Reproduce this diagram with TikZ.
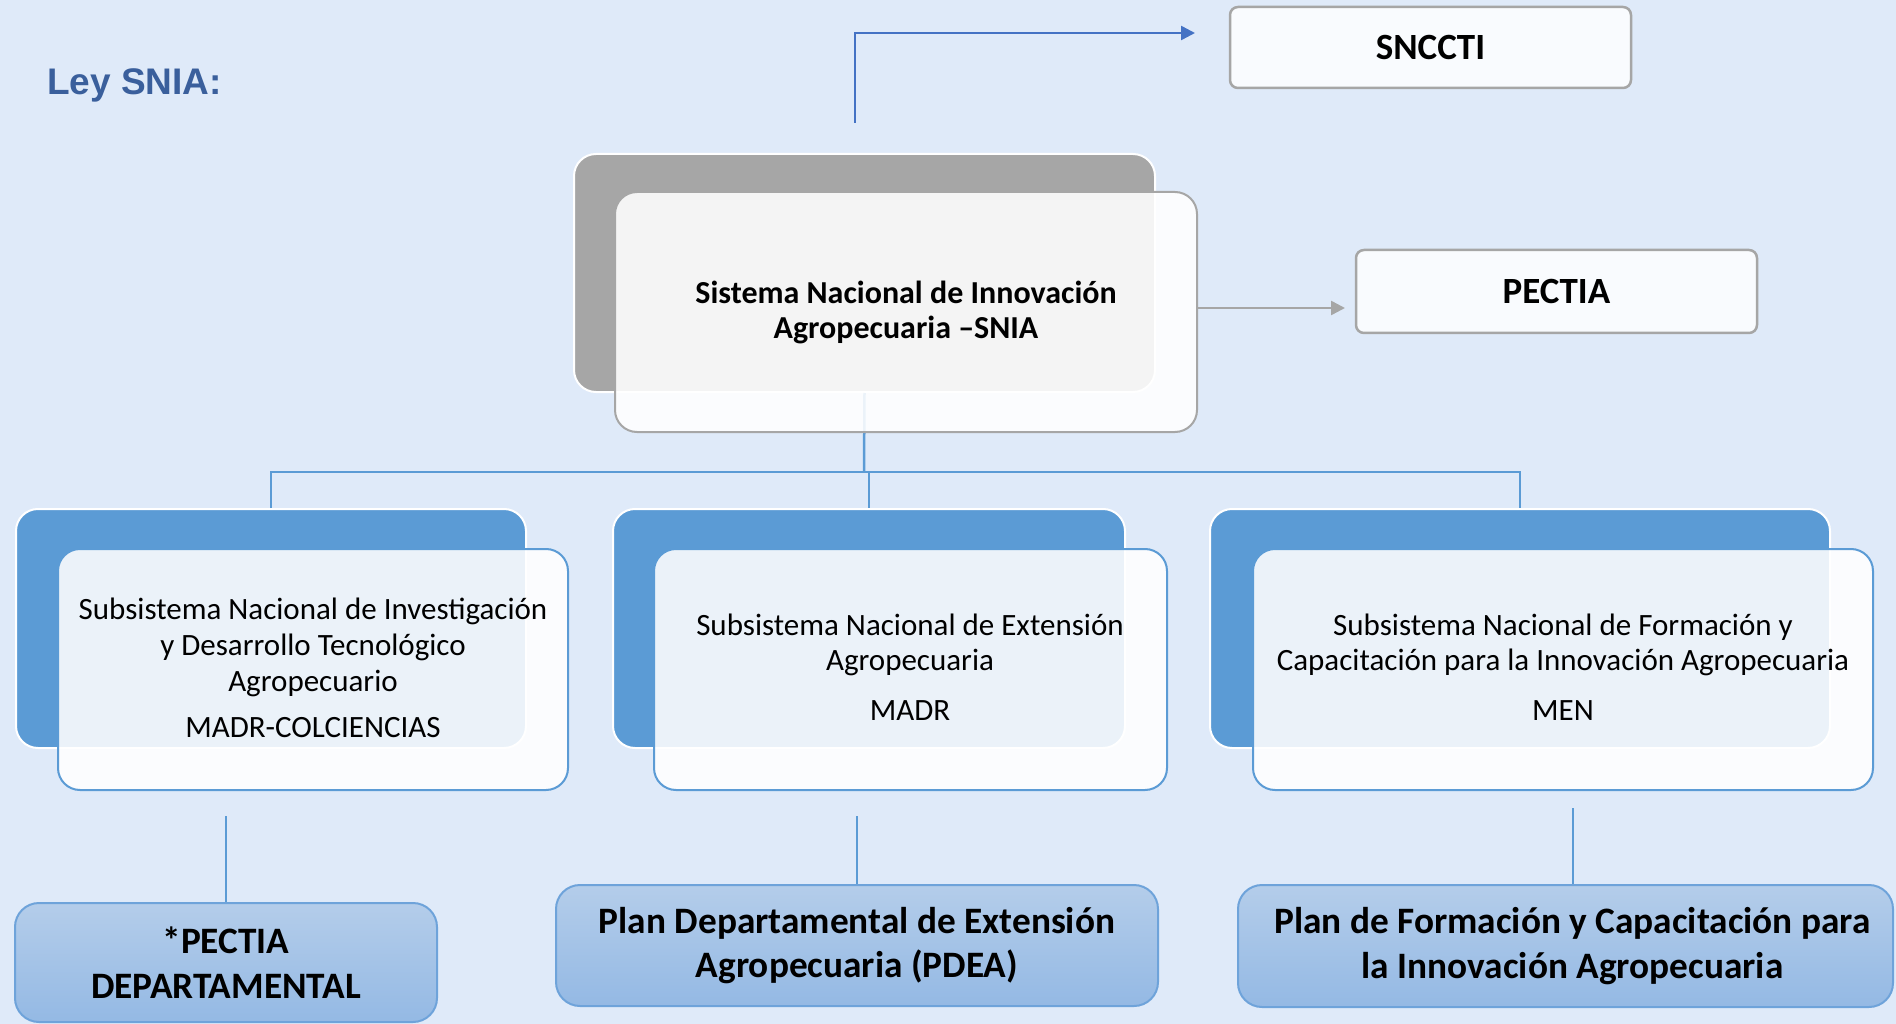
\documentclass[tikz,border=0pt]{standalone}
\usepackage{fontspec}
\setmainfont{Carlito}
\newfontfamily\titlefont{Liberation Sans}
\usetikzlibrary{arrows.meta,calc}
\definecolor{bg}{RGB}{223,234,249}
\definecolor{titleblue}{RGB}{58,95,156}
\definecolor{midblue}{RGB}{91,155,213}
\definecolor{darkblue}{RGB}{68,114,196}
\definecolor{greyback}{RGB}{166,166,166}
\definecolor{greyline}{RGB}{166,166,166}
\definecolor{boxwhite}{RGB}{249,251,254}
\definecolor{gradtop}{RGB}{180,205,234}
\definecolor{gradbot}{RGB}{148,185,228}
\definecolor{gradline}{RGB}{110,163,218}
\tikzset{
  backgray/.style={draw=white, line width=2pt, fill=greyback, rounded corners=22pt, inner sep=0pt},
  backblue/.style={draw=white, line width=2pt, fill=midblue, rounded corners=22pt, inner sep=0pt},
  frontgray/.style={draw=greyline, line width=2pt, fill=white, fill opacity=0.88, text opacity=1, rounded corners=22pt, inner sep=0pt, align=center},
  frontblue/.style={draw=midblue, line width=2pt, fill=white, fill opacity=0.88, text opacity=1, rounded corners=22pt, inner sep=0pt, align=center},
  plainbox/.style={draw=greyline, line width=2.5pt, fill=boxwhite, rounded corners=8pt, inner sep=0pt,
    font=\bfseries\fontsize{37}{44}\selectfont},
  planbox/.style={draw=gradline, line width=2pt, top color=gradtop, bottom color=gradbot, rounded corners=24pt, inner sep=0pt, align=center,
    font=\bfseries\fontsize{37.3}{44.7}\selectfont},
  conn/.style={draw=midblue, line width=2.5pt},
  subtext/.style={font=\fontsize{31}{35.7}\selectfont}
}
\begin{document}
\begin{tikzpicture}[x=1pt,y=-1pt]
\fill[bg] (0,0) rectangle (1896,1024);
\useasboundingbox (0,0) rectangle (1896,1024);

% title
\node[anchor=west, text=titleblue, font=\titlefont\bfseries\fontsize{37}{40}\selectfont, inner sep=0pt] (title) at (47,85) {Ley SNIA:};

% top boxes
\node[plainbox, minimum width=401, minimum height=81] (sncct) at (1430.5,47.5) {\raisebox{-2pt}{SNCCTI}};
\node[plainbox, minimum width=401, minimum height=83] (pectia) at (1556.5,291.5) {\raisebox{-1pt}{PECTIA}};

% main SNIA
\node[backgray, minimum width=581, minimum height=238] (sniaback) at (864.5,273) {};
\coordinate (tjoin) at (864,472);
\draw[conn] (sniaback.south) -- (tjoin);
\node[frontgray, minimum width=582, minimum height=240, font=\bfseries\fontsize{32}{35}\selectfont] (snia) at (906,312)
  {Sistema Nacional de Innovación\\Agropecuaria –SNIA};

% arrow to SNCCTI
\coordinate (sstart) at (855,123);
\coordinate (send) at (1195,33);
\draw[draw=darkblue, line width=2.5pt, -{Triangle[length=14pt,width=14pt]}] (sstart) |- (send);

% arrow to PECTIA
\coordinate (pend) at (1345,308);
\draw[draw=greyline, line width=2.5pt, -{Triangle[length=14pt,width=14pt]}] (snia.east |- pend) -- (pend);

% sub-system back boxes
\node[backblue, minimum width=510, minimum height=239] (b1) at (271,628.5) {};
\node[backblue, minimum width=512, minimum height=239] (b2) at (869,628.5) {};
\node[backblue, minimum width=620, minimum height=239] (b3) at (1520,628.5) {};

% tree connectors
\draw[conn] (b1.north) -- (b1.north |- tjoin) -- (b3.north |- tjoin) -- (b3.north);
\draw[conn] (b2.north |- tjoin) -- (b2.north);

% sub-system front boxes
\node[frontblue, minimum width=510, minimum height=241] (f1) at (313,669.5) {};
\node[frontblue, minimum width=513, minimum height=241] (f2) at (910.5,669.5) {};
\node[frontblue, minimum width=620, minimum height=241] (f3) at (1563,669.5) {};

\node[subtext, align=center, inner sep=0pt] (t1) at (313,668)
  {Subsistema Nacional de Investigación\\y Desarrollo Tecnológico\\Agropecuario\\[11pt]MADR-COLCIENCIAS};
\node[subtext, align=center, inner sep=0pt] (t2) at (910,667)
  {Subsistema Nacional de Extensión\\Agropecuaria\\[14pt]MADR};
\node[subtext, align=center, inner sep=0pt] (t3) at (1563,667)
  {Subsistema Nacional de Formación y\\Capacitación para la Innovación Agropecuaria\\[14pt]MEN};

% plan boxes
\node[planbox, minimum width=422, minimum height=119] (p1) at (226,962.5)
  {*PECTIA\\DEPARTAMENTAL};
\node[planbox, minimum width=602, minimum height=121] (p2) at (857,945.5)
  {Plan Departamental de Extensión\\Agropecuaria (PDEA)};
\node[planbox, minimum width=655, minimum height=122] (p3) at (1565.5,946)
  {\hspace*{14pt}Plan de Formación y Capacitación para\\\hspace*{14pt}la Innovación Agropecuaria};

% plan connectors
\coordinate (c1) at (226,816);
\coordinate (c2) at (857,816);
\coordinate (c3) at (1573,808);
\draw[conn] (c1) -- (c1 |- p1.north);
\draw[conn] (c2) -- (c2 |- p2.north);
\draw[conn] (c3) -- (c3 |- p3.north);
\end{tikzpicture}
\end{document}
